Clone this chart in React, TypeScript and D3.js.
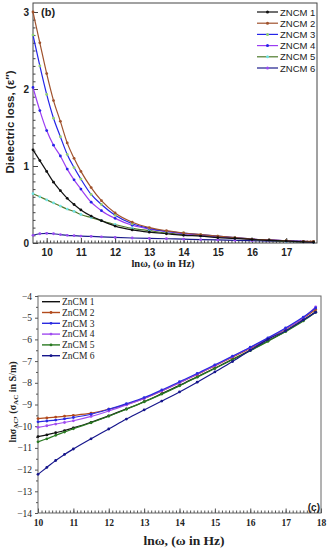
import React, { useEffect, useRef } from 'react';
import * as d3 from 'd3';

// panel (b): dielectric loss vs ln(omega)
const lnwTop = [9.6, 9.8, 10.0, 10.2, 10.4, 10.6, 10.8, 11.0, 11.3, 11.6, 12.0, 12.5, 13.0, 13.5, 14.0, 14.5, 15.0, 15.5, 16.0, 16.5, 17.0, 17.5, 17.8];
const lossZncm1 = [1.21, 1.07, 0.93, 0.79, 0.68, 0.58, 0.5, 0.43, 0.35, 0.29, 0.22, 0.17, 0.14, 0.12, 0.1, 0.09, 0.07, 0.06, 0.045, 0.035, 0.025, 0.015, 0.01];
const lossZncm2 = [3.0, 2.6, 2.2, 1.85, 1.58, 1.3, 1.1, 0.93, 0.72, 0.55, 0.39, 0.27, 0.2, 0.16, 0.13, 0.11, 0.09, 0.07, 0.05, 0.04, 0.03, 0.02, 0.02];
const lossZncm3 = [2.7, 2.3, 1.93, 1.62, 1.38, 1.15, 0.98, 0.83, 0.63, 0.5, 0.36, 0.25, 0.19, 0.15, 0.13, 0.11, 0.09, 0.07, 0.05, 0.04, 0.03, 0.02, 0.015];
const lossZncm4 = [2.02, 1.72, 1.46, 1.27, 1.13, 0.96, 0.82, 0.7, 0.53, 0.42, 0.32, 0.23, 0.18, 0.15, 0.12, 0.1, 0.08, 0.065, 0.05, 0.04, 0.03, 0.02, 0.015];
const lossZncm5 = [0.64, 0.6, 0.56, 0.52, 0.48, 0.44, 0.41, 0.37, 0.33, 0.29, 0.24, 0.19, 0.16, 0.13, 0.11, 0.1, 0.08, 0.065, 0.05, 0.035, 0.02, 0.015, 0.01];
const lossZncm6 = [0.1, 0.12, 0.125, 0.12, 0.11, 0.1, 0.095, 0.09, 0.085, 0.08, 0.072, 0.065, 0.06, 0.055, 0.05, 0.045, 0.04, 0.035, 0.03, 0.025, 0.02, 0.015, 0.01];
const topNames = ['ZNCM 1', 'ZNCM 2', 'ZNCM 3', 'ZNCM 4', 'ZNCM 5', 'ZNCM 6'];
const topXTicks = [10, 11, 12, 13, 14, 15, 16, 17];
const topYTicks = [0, 1, 2, 3];

// panel (c): ln sigma_AC vs ln(omega)
const lnwBot = [10, 10.25, 10.5, 10.75, 11, 11.5, 12, 12.5, 13, 13.5, 14, 14.5, 15, 15.5, 16, 16.5, 17, 17.5, 17.85];
const sigZncm1 = [-10.48, -10.4, -10.3, -10.2, -10.08, -9.82, -9.52, -9.2, -8.87, -8.5, -8.12, -7.72, -7.32, -6.92, -6.5, -6.07, -5.62, -5.12, -4.72];
const sigZncm2 = [-9.65, -9.62, -9.58, -9.54, -9.5, -9.4, -9.22, -9.0, -8.72, -8.38, -8.0, -7.62, -7.22, -6.82, -6.42, -5.98, -5.52, -5.02, -4.62];
const sigZncm3 = [-9.8, -9.76, -9.72, -9.66, -9.6, -9.45, -9.22, -8.96, -8.68, -8.33, -7.95, -7.57, -7.17, -6.77, -6.36, -5.93, -5.47, -4.97, -4.55];
const sigZncm4 = [-10.05, -9.98, -9.9, -9.83, -9.75, -9.55, -9.3, -9.02, -8.72, -8.37, -8.0, -7.6, -7.2, -6.79, -6.38, -5.95, -5.5, -5.0, -4.5];
const sigZncm5 = [-10.72, -10.58, -10.42, -10.27, -10.12, -9.84, -9.54, -9.22, -8.88, -8.52, -8.14, -7.74, -7.34, -6.93, -6.52, -6.09, -5.64, -5.15, -4.75];
const sigZncm6 = [-12.22, -11.9, -11.58, -11.3, -11.05, -10.58, -10.13, -9.67, -9.25, -8.84, -8.42, -7.97, -7.5, -7.02, -6.5, -6.0, -5.6, -5.1, -4.75];
const botNames = ['ZnCM 1', 'ZnCM 2', 'ZnCM 3', 'ZnCM 4', 'ZnCM 5', 'ZnCM 6'];
const botXTicks = [10, 11, 12, 13, 14, 15, 16, 17, 18];
const botYTicks = [-4, -5, -6, -7, -8, -9, -10, -11, -12, -13, -14];

const topLine = ['#111111', '#a0522d', '#2424e8', '#9a3cf2', '#4d7a2a', '#1c1c8c'];
const topMark = ['#111111', '#a0522d', '#8fd070', '#2424e8', '#70e2e2', '#9a4cf2'];
const botLine = ['#111111', '#b24a1c', '#2a2ae0', '#a04cf0', '#2a7a22', '#16168c'];
const botMark = ['#111111', '#b24a1c', '#2a2ae0', '#a04cf0', '#2a7a22', '#16168c'];

const SANS = '"Liberation Sans", Arial, sans-serif';
const SERIF = '"Liberation Serif", "Times New Roman", serif';

const App: React.FC = () => {
  const svgRef = useRef<SVGSVGElement>(null);

  useEffect(() => {
    const svg = d3.select(svgRef.current);
    svg.selectAll('*').remove();

    // ---------- panel (b) ----------
    const x1 = d3.scaleLinear().domain([9.6, 17.9]).range([33, 317]);
    const y1 = d3.scaleLinear().domain([0, 3.117]).range([243, 3]);
    const top = svg.append('g');

    top.append('rect')
      .attr('x', 33).attr('y', 3).attr('width', 284).attr('height', 240)
      .attr('fill', 'white').attr('stroke', '#444').attr('stroke-width', 1);

    // minor ticks
    top.append('g')
      .attr('transform', 'translate(0,243)')
      .call(d3.axisBottom(x1).tickValues(d3.range(9.7, 17.85, 0.1)).tickSize(-2.5).tickFormat(() => ''))
      .call(g => g.select('.domain').remove());
    top.append('g')
      .attr('transform', 'translate(33,0)')
      .call(d3.axisLeft(y1).tickValues(d3.range(0.1, 3.1, 0.1)).tickSize(-2.5).tickFormat(() => ''))
      .call(g => g.select('.domain').remove());

    top.append('g')
      .attr('transform', 'translate(0,243)')
      .call(d3.axisBottom(x1).tickValues(topXTicks).tickSize(-5).tickPadding(6).tickFormat(d3.format('d')))
      .call(g => g.select('.domain').remove())
      .call(g => g.selectAll('text').attr('font-family', SANS).attr('font-weight', 'bold').attr('font-size', 10).attr('fill', '#222'));
    top.append('g')
      .attr('transform', 'translate(33,0)')
      .call(d3.axisLeft(y1).tickValues(topYTicks).tickSize(-5).tickPadding(4).tickFormat(d3.format('d')))
      .call(g => g.select('.domain').remove())
      .call(g => g.selectAll('text').attr('font-family', SANS).attr('font-weight', 'bold').attr('font-size', 10).attr('fill', '#222'));
    top.selectAll('.tick line').attr('stroke', '#444');

    const topSeries = [lossZncm1, lossZncm2, lossZncm3, lossZncm4, lossZncm5, lossZncm6];
    const line1 = d3.line<number>()
      .x((d, i) => x1(lnwTop[i]))
      .y(d => y1(d))
      .curve(d3.curveMonotoneX);

    // draw back to front so ZNCM 1 ends on top like the original
    [5, 4, 3, 2, 1, 0].forEach(k => {
      top.append('path')
        .datum(topSeries[k])
        .attr('d', line1)
        .attr('fill', 'none')
        .attr('stroke', topLine[k])
        .attr('stroke-width', 1.2);
      top.selectAll(null)
        .data(topSeries[k])
        .join('circle')
        .attr('cx', (d, i) => x1(lnwTop[i]))
        .attr('cy', d => y1(d))
        .attr('r', 1.4)
        .attr('fill', topMark[k]);
    });

    top.append('text')
      .attr('x', 41).attr('y', 16)
      .attr('font-family', SANS).attr('font-weight', 'bold').attr('font-size', 11)
      .attr('fill', '#222')
      .text('(b)');

    const leg1 = top.append('g');
    topNames.forEach((name, k) => {
      const yy = 12 + k * 11.2;
      leg1.append('line')
        .attr('x1', 257).attr('x2', 278).attr('y1', yy).attr('y2', yy)
        .attr('stroke', topLine[k]).attr('stroke-width', 1.2);
      leg1.append('circle')
        .attr('cx', 267.5).attr('cy', yy).attr('r', 1.5).attr('fill', topMark[k]);
      leg1.append('text')
        .attr('x', 280).attr('y', yy + 3.5)
        .attr('font-family', SANS).attr('font-size', 9.5).attr('fill', '#222')
        .text(name);
    });

    top.append('text')
      .attr('x', 163).attr('y', 267)
      .attr('text-anchor', 'middle')
      .attr('font-family', SERIF).attr('font-weight', 'bold').attr('font-size', 10.5)
      .attr('fill', '#222')
      .text('lnω, (ω in Hz)');

    top.append('text')
      .attr('transform', 'translate(14,122) rotate(-90)')
      .attr('text-anchor', 'middle')
      .attr('font-family', SANS).attr('font-weight', 'bold').attr('font-size', 11.5)
      .attr('fill', '#222')
      .text('Dielectric loss, (ε″)');

    // ---------- panel (c) ----------
    const x2 = d3.scaleLinear().domain([10, 18]).range([38, 321]);
    const y2 = d3.scaleLinear().domain([-14, -4]).range([513, 296]);
    const bot = svg.append('g');

    bot.append('rect')
      .attr('x', 38).attr('y', 296).attr('width', 283).attr('height', 217)
      .attr('fill', 'white').attr('stroke', '#666').attr('stroke-width', 1);

    bot.append('g')
      .attr('transform', 'translate(0,513)')
      .call(d3.axisBottom(x2).tickValues(d3.range(10.1, 17.95, 0.1)).tickSize(-2.5).tickFormat(() => ''))
      .call(g => g.select('.domain').remove());
    bot.append('g')
      .attr('transform', 'translate(38,0)')
      .call(d3.axisLeft(y2).tickValues(d3.range(-13.5, -4, 1)).tickSize(2).tickFormat(() => ''))
      .call(g => g.select('.domain').remove());

    bot.append('g')
      .attr('transform', 'translate(0,513)')
      .call(d3.axisBottom(x2).tickValues(botXTicks).tickSize(-4.5).tickPadding(6).tickFormat(d3.format('d')))
      .call(g => g.select('.domain').remove())
      .call(g => g.selectAll('text').attr('font-family', SERIF).attr('font-weight', 'bold').attr('font-size', 9.5).attr('fill', '#222'));
    bot.append('g')
      .attr('transform', 'translate(38,0)')
      .call(d3.axisLeft(y2).tickValues(botYTicks).tickSize(3).tickPadding(3).tickFormat(d3.format('d')))
      .call(g => g.select('.domain').remove())
      .call(g => g.selectAll('text').attr('font-family', SERIF).attr('font-size', 9.5).attr('fill', '#222'));
    bot.selectAll('.tick line').attr('stroke', '#555');

    const botSeries = [sigZncm1, sigZncm2, sigZncm3, sigZncm4, sigZncm5, sigZncm6];
    const line2 = d3.line<number>()
      .x((d, i) => x2(lnwBot[i]))
      .y(d => y2(d))
      .curve(d3.curveMonotoneX);

    [0, 4, 1, 3, 2, 5].forEach(k => {
      bot.append('path')
        .datum(botSeries[k])
        .attr('d', line2)
        .attr('fill', 'none')
        .attr('stroke', botLine[k])
        .attr('stroke-width', 1.2);
      bot.selectAll(null)
        .data(botSeries[k])
        .join('circle')
        .attr('cx', (d, i) => x2(lnwBot[i]))
        .attr('cy', d => y2(d))
        .attr('r', 1.4)
        .attr('fill', botMark[k]);
    });

    const leg2 = bot.append('g');
    botNames.forEach((name, k) => {
      const yy = 301.7 + k * 10.8;
      leg2.append('line')
        .attr('x1', 42).attr('x2', 60).attr('y1', yy).attr('y2', yy)
        .attr('stroke', botLine[k]).attr('stroke-width', 1.4);
      if (k > 0) {
        leg2.append('circle')
          .attr('cx', 51).attr('cy', yy).attr('r', 1.4).attr('fill', botMark[k]);
      }
      leg2.append('text')
        .attr('x', 62).attr('y', yy + 3.2)
        .attr('font-family', SERIF).attr('font-size', 9.5).attr('fill', '#222')
        .text(name);
    });

    bot.append('text')
      .attr('x', 320).attr('y', 511)
      .attr('text-anchor', 'end')
      .attr('font-family', SANS).attr('font-weight', 'bold').attr('font-size', 10)
      .attr('fill', '#222')
      .text('(c)');

    bot.append('text')
      .attr('x', 184).attr('y', 545)
      .attr('text-anchor', 'middle')
      .attr('font-family', SERIF).attr('font-weight', 'bold').attr('font-size', 13.5)
      .attr('fill', '#222')
      .text('lnω, (ω in Hz)');

    const yl = bot.append('text')
      .attr('transform', 'translate(16,402) rotate(-90)')
      .attr('text-anchor', 'middle')
      .attr('font-family', SERIF).attr('font-weight', 'bold').attr('font-size', 10)
      .attr('fill', '#222');
    yl.append('tspan').text('lnσ');
    yl.append('tspan').attr('font-size', 7).attr('dy', 2).text('AC');
    yl.append('tspan').attr('dy', -2).text(', (σ');
    yl.append('tspan').attr('font-size', 7).attr('dy', 2).text('AC');
    yl.append('tspan').attr('dy', -2).text(' in  S/m)');
  }, []);

  return (
    <svg
      ref={svgRef}
      width={327}
      height={550}
      style={{ position: 'absolute', left: 0, top: 0, background: 'white' }}
    />
  );
};

export default App;
